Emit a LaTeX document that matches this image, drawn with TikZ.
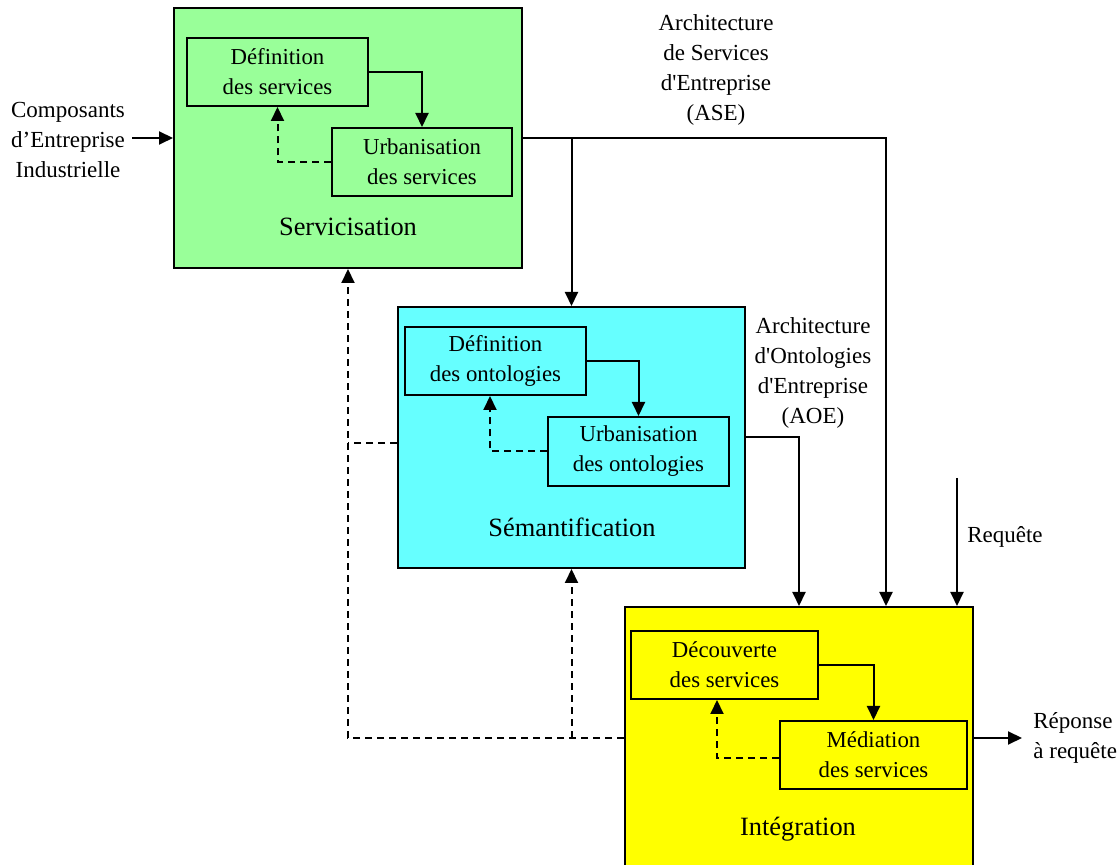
\documentclass[tikz,border=0pt]{standalone}
\usepackage{fontspec}
\setmainfont{Liberation Serif}[Ligatures=TeXOff]
\usetikzlibrary{arrows.meta,calc}
\definecolor{gfill}{HTML}{99FF99}
\definecolor{cfill}{HTML}{66FFFF}
\definecolor{yfill}{HTML}{FFFF00}
\begin{document}
\begin{tikzpicture}[x=0.5pt,y=-0.5pt,
  stage/.style={draw, line width=1pt, inner sep=0pt},
  sub/.style={draw, line width=1pt, inner sep=0pt, align=center, font=\fontsize{11.4}{15}\selectfont},
  lbl/.style={align=center, font=\fontsize{11.5}{15}\selectfont, inner sep=0pt},
  stagelbl/.style={font=\fontsize{13.2}{15}\selectfont, inner sep=0pt},
  flow/.style={line width=1pt, -{Triangle[length=7pt,width=6.5pt]}},
  back/.style={flow, dash pattern=on 3.5pt off 2.5pt},
  plain/.style={line width=1pt}]
\useasboundingbox (0,0) rectangle (1120,865);
\clip (0,0) rectangle (1120,865);

% stages
\node[stage, fill=gfill, minimum width=174pt, minimum height=130pt] (G) at (348,138) {};
\node[stage, fill=cfill, minimum width=173.5pt, minimum height=130.5pt] (C) at (571.5,437.5) {};
\node[stage, fill=yfill, minimum width=174pt, minimum height=131pt] (Y) at (799,738) {};

% sub boxes
\node[sub, minimum width=90.5pt, minimum height=34pt] (DS) at (277.5,72) {Définition\\des services};
\node[sub, minimum width=90pt, minimum height=34pt] (US) at (422,162) {Urbanisation\\des services};
\node[sub, minimum width=90.5pt, minimum height=34pt] (DO) at (495.5,361) {Définition\\des ontologies};
\node[sub, minimum width=90.5pt, minimum height=34.5pt] (UO) at (638.5,451.5) {Urbanisation\\des ontologies};
\node[sub, minimum width=93.5pt, minimum height=34pt] (DV) at (724.5,665) {Découverte\\des services};
\node[sub, minimum width=93.5pt, minimum height=34pt] (MS) at (873.5,755) {Médiation\\des services};

% stage labels
\node[stagelbl] (LG) at (348,227) {Servicisation};
\node[stagelbl] (LC) at (572,527) {Sémantification};
\node[stagelbl] (LY) at (798,829) {Intégration};

% inner flows
\draw[flow] (DS.east) -| (US.north);
\draw[back] (US.west) -| (DS.south);
\draw[flow] (DO.east) -| (UO.north);
\draw[back] (UO.west) -| ([xshift=-2.75pt]DO.south);
\draw[flow] (DV.east) -| (MS.north);
\draw[back] ([yshift=-1.5pt]MS.west) -| ([xshift=-3.75pt]DV.south);

% outer labels
\node[lbl] (comp) at (68,140) {Composants\\d’Entreprise\\Industrielle};
\node[lbl] (ase) at (716,70) {Architecture\\de Services\\d'Entreprise\\(ASE)};
\node[lbl] (aoe) at (813,373) {Architecture\\d'Ontologies\\d'Entreprise\\(AOE)};
\node[lbl] (reqlbl) at (1005,537) {Requête};
\node[lbl, align=left, anchor=west] (rep) at (1033,738) {Réponse\\à requête};

\coordinate (cin) at (132,138);
\coordinate (req) at (957,478);
\coordinate (out) at (1022,738);

% outer flows
\draw[flow] (cin) -- (G.west);
\draw[flow] (G.east) -| ([xshift=43.5pt]Y.north);
\draw[flow] (G.east -| C.north) -- (C.north);
\draw[flow] (C.east) -| (Y.north);
\draw[flow] (req) -- (req |- Y.north);
\draw[flow] (Y.east) -- (out);

% feedback
\draw[back] (Y.west) -| (G.south);
\draw[back] (C.south |- Y.west) -- (C.south);
\draw[plain, dash pattern=on 3.5pt off 2.5pt] ([yshift=-2.75pt]C.west) -- ([yshift=-2.75pt]C.west -| G.south);
\end{tikzpicture}
\end{document}
